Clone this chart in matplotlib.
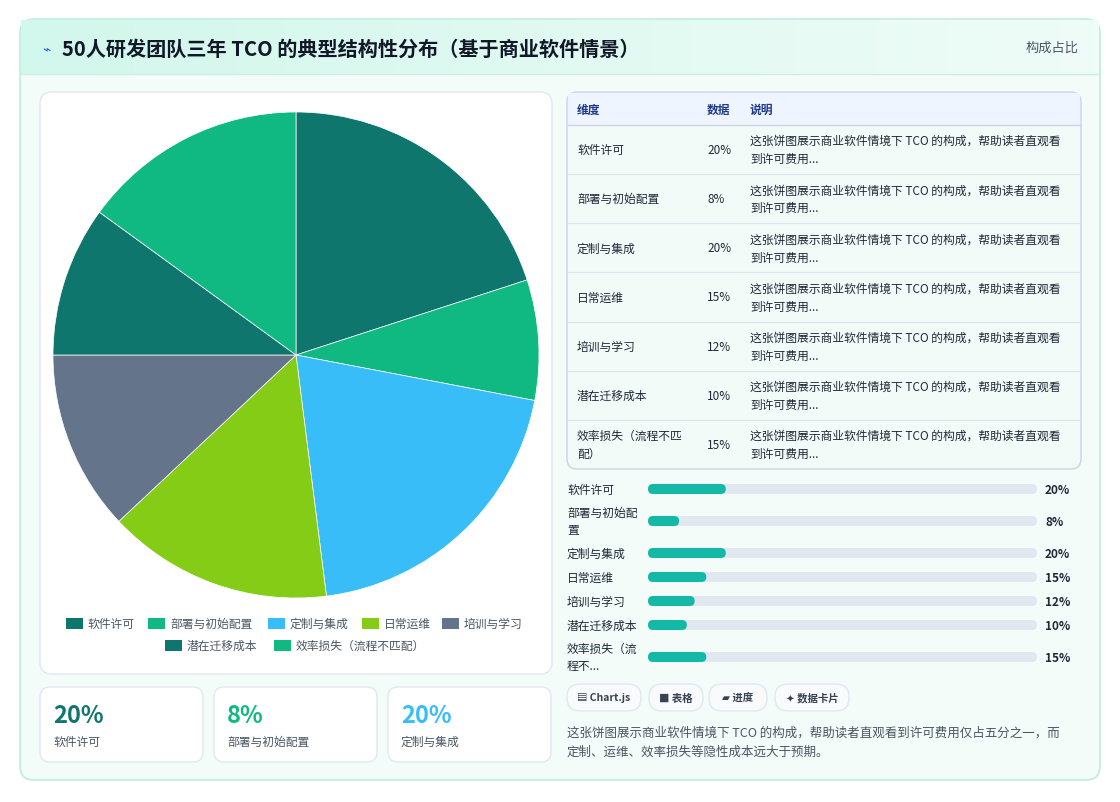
import matplotlib
matplotlib.use("Agg")
import matplotlib.pyplot as plt
from matplotlib.patches import FancyBboxPatch, Rectangle
import numpy as np

plt.rcParams['font.family'] = ['Noto Sans CJK SC', 'DejaVu Sans']

categories = ["软件许可", "部署与初始配置", "定制与集成", "日常运维", "培训与学习", "潜在迁移成本", "效率损失（流程不匹配）"]
values = [20, 8, 20, 15, 12, 10, 15]
colors = ["#0f766e", "#10b981", "#38bdf8", "#84cc16", "#64748b", "#0f766e", "#10b981"]
table_labels = ["软件许可", "部署与初始配置", "定制与集成", "日常运维", "培训与学习", "潜在迁移成本", "效率损失（流程不匹\n配）"]
bar_labels = ["软件许可", "部署与初始配\n置", "定制与集成", "日常运维", "培训与学习", "潜在迁移成本", "效率损失（流\n程不..."]
desc = "这张饼图展示商业软件情境下 TCO 的构成，帮助读者直观看\n到许可费用..."
title = "50人研发团队三年 TCO 的典型结构性分布（基于商业软件情景）"
summary = "这张饼图展示商业软件情境下 TCO 的构成，帮助读者直观看到许可费用仅占五分之一，而\n定制、运维、效率损失等隐性成本远大于预期。"

W, H = 1120, 803
fig = plt.figure(figsize=(W/100, H/100), dpi=100)
fig.patch.set_facecolor("white")
bg = fig.add_axes([0, 0, 1, 1])
bg.set_xlim(0, W); bg.set_ylim(H, 0); bg.axis("off")

def rbox(x0, y0, x1, y1, r, fc, ec="none", lw=1, z=1):
    p = FancyBboxPatch((x0, y0), x1-x0, y1-y0, boxstyle=f"round,pad=0,rounding_size={r}",
                       fc=fc, ec=ec, lw=lw, zorder=z, mutation_aspect=1)
    bg.add_patch(p)

# outer card
rbox(20, 20, 1100, 781, 14, "#f3fcf8", "#bdeedd", 1.2, 1)
# header gradient
grad = np.linspace(0, 1, 200).reshape(1, -1)
from matplotlib.colors import LinearSegmentedColormap
cm = LinearSegmentedColormap.from_list("g", ["#d2f7ec", "#effcf7"])
bg.imshow(grad, extent=(21, 1099, 75, 21), cmap=cm, aspect="auto", zorder=2)
bg.plot([21, 1099], [75, 75], color="#cdeee2", lw=1, zorder=3)
bg.text(42, 49, "⌁", fontsize=10, color="#2563eb", va="center", zorder=4, family=["DejaVu Sans"])
bg.text(62, 49, title, fontsize=14.5, fontweight="bold", color="#111827", va="center", zorder=4)
bg.text(1079, 48, "构成占比", fontsize=9.5, color="#4b5563", va="center", ha="right", zorder=4)

# left panel
rbox(40, 93, 552, 675, 12, "white", "#e2e8f0", 1, 2)

# pie
cx, cy, R = 296, 356, 243
pax = fig.add_axes([(cx-R)/W, 1-(cy+R)/H, 2*R/W, 2*R/H])
pax.pie(values, colors=colors, startangle=90, counterclock=False,
        wedgeprops=dict(edgecolor="white", linewidth=0.5))
pax.set_xlim(-1, 1); pax.set_ylim(-1, 1); pax.set_aspect("auto"); pax.axis("off")

# legend
rows = [(categories[:5], 624, [66, 148, 268, 362, 442]), (categories[5:], 646, [165, 274])]
k = 0
for labs, y, xs in rows:
    for lab, x in zip(labs, xs):
        bg.add_patch(Rectangle((x, y-5), 17, 11, fc=colors[k], zorder=4))
        bg.text(x+22, y, lab, fontsize=8.5, color="#4b5563", va="center", zorder=4)
        k += 1

# KPI cards
kpi_x = [40, 214, 388]
kpi_c = ["#0f766e", "#10b981", "#38bdf8"]
for i, x in enumerate(kpi_x):
    rbox(x, 688, x+163, 763, 10, "white", "#e2e8f0", 1, 2)
    bg.text(x+13, 716, f"{values[i]}%", fontsize=17, fontweight="bold", color=kpi_c[i], va="center", zorder=4)
    bg.text(x+13, 742, categories[i], fontsize=8.5, color="#4b5563", va="center", zorder=4)

# table
rbox(567, 93, 1081, 470, 10, "#f3fbf8", "#cbd5e1", 1, 2)
bg.add_patch(Rectangle((568, 94), 512, 32, fc="#eef5ff", zorder=3))
bg.plot([568, 1080], [126, 126], color="#cbd5e1", lw=1, zorder=4)
for t, x in [("维度", 577), ("数据", 707), ("说明", 750)]:
    bg.text(x, 110, t, fontsize=8.5, fontweight="bold", color="#1e3a8a", va="center", zorder=4)
rh = (470-126)/7
for i in range(7):
    y0 = 126 + i*rh
    yc = y0 + rh/2
    if i > 0:
        bg.plot([568, 1080], [y0, y0], color="#dbe3ec", lw=0.8, zorder=4)
    bg.text(577, yc, table_labels[i], fontsize=8.5, color="#1f2937", va="center", zorder=4, linespacing=1.5)
    bg.text(707, yc, f"{values[i]}%", fontsize=8.5, color="#1f2937", va="center", zorder=4)
    bg.text(750, yc, desc, fontsize=8.5, color="#1f2937", va="center", zorder=4, linespacing=1.5)

# progress bars
bar_y = [490, 522, 554, 578, 602, 626, 658]
bx0, bx1 = 648, 1037
cmb = LinearSegmentedColormap.from_list("b", ["#10b981", "#06b6d4"])
for i, y in enumerate(bar_y):
    bg.text(567, y, bar_labels[i], fontsize=8.5, color="#1f2937", va="center", zorder=4, linespacing=1.4)
    rbox(bx0, y-5, bx1, y+5, 5, "#e2e8f0", "none", 1, 3)
    w = (bx1-bx0)*values[i]/100
    rbox(bx0, y-5, bx0+w, y+5, 5, "#14b8a6", "none", 1, 4)
    bg.text(1045, y+1, f"{values[i]}%", fontsize=8.5, fontweight="bold", color="#1f2937", va="center", zorder=4)

# chips
chips = [("▤ Chart.js", 567, 641), ("■ 表格", 649, 703), ("▰ 进度", 709, 767), ("✦ 数据卡片", 775, 849)]
for t, x0, x1 in chips:
    rbox(x0, 685, x1, 712, 13, "#f8fafc", "#e2e8f0", 1, 3)
    bg.text((x0+x1)/2, 698.5, t, fontsize=7.5, fontweight="bold", color="#374151", ha="center", va="center", zorder=4)

bg.text(567, 743, summary, fontsize=9, color="#4b5563", va="center", zorder=4, linespacing=1.6)

fig.savefig("out.png", dpi=100, facecolor="white")
